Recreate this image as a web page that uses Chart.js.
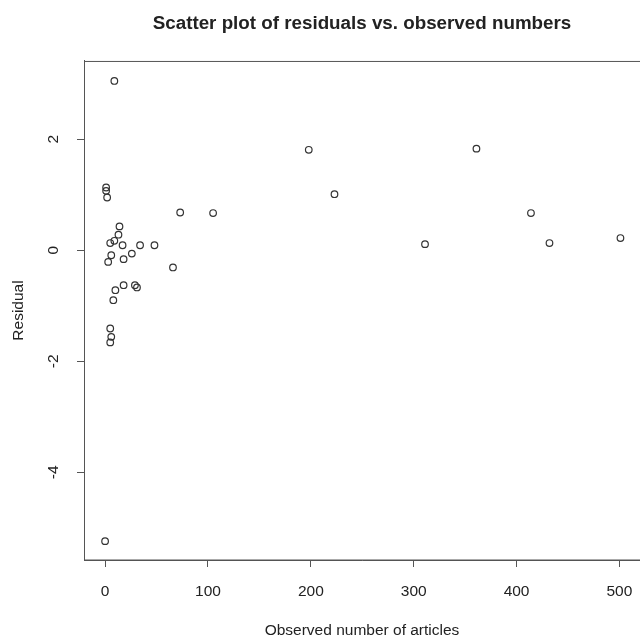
<!DOCTYPE html>
<html lang="en">
  <head>
    <meta charset="UTF-8" />
    <title>Residuals vs. observed numbers</title>
    <script src="https://cdn.jsdelivr.net/npm/chart.js"></script>
    <style>
      html, body { margin: 0; padding: 0; background: #fff; overflow: hidden; }
      canvas { display: block; }
    </style>
  </head>
  <body>
    <canvas id="residChart" width="640" height="638"></canvas>

    <script>
      // observed article counts and the model residual for each
      const observed = [9, 1, 1, 2, 73, 105, 14, 13, 5, 9, 17, 34, 48, 6, 3, 18, 26, 66,
        18, 29, 31, 10, 8, 5, 6, 5, 0, 198, 223, 361, 311, 414, 432, 501];
      const residuals = [3.05, 1.13, 1.07, 0.95, 0.68, 0.67, 0.43, 0.28, 0.13, 0.17, 0.09,
        0.09, 0.09, -0.09, -0.21, -0.16, -0.06, -0.31, -0.63, -0.63, -0.67, -0.72, -0.9,
        -1.41, -1.56, -1.66, -5.24, 1.81, 1.01, 1.83, 0.11, 0.67, 0.13, 0.22];

      const xTicks = [0, 100, 200, 300, 400, 500];
      const yTicks = [-4, -2, 0, 2];

      const ink = "#222";
      const lineCol = "#555";
      const family = "'Liberation Sans', Arial, sans-serif";

      // box around the plotting region
      const boxPlugin = {
        id: "box",
        afterDraw(chart) {
          const { ctx, chartArea: a } = chart;
          ctx.save();
          ctx.strokeStyle = lineCol;
          ctx.lineWidth = 1;
          ctx.strokeRect(a.left + 0.5, a.top + 0.5, a.right - a.left, a.bottom - a.top - 0.5);
          ctx.restore();
        },
      };

      const points = observed.map((x, i) => ({ x: x, y: residuals[i] }));

      new Chart(document.getElementById("residChart"), {
        type: "scatter",
        data: {
          datasets: [
            {
              data: points,
              pointStyle: "circle",
              pointRadius: 3.3,
              pointHoverRadius: 3.3,
              pointBorderWidth: 1.2,
              borderColor: "#333",
              backgroundColor: "rgba(0,0,0,0)",
            },
          ],
        },
        options: {
          responsive: false,
          animation: false,
          layout: { autoPadding: false, padding: 0 },
          plugins: {
            legend: { display: false },
            tooltip: { enabled: false },
            title: {
              display: true,
              fullSize: false,
              text: "Scatter plot of residuals vs. observed numbers",
              color: ink,
              font: { family: family, size: 18.8, weight: "bold", lineHeight: 1.2 },
              padding: { top: 13, bottom: 25.4 },
            },
          },
          scales: {
            x: {
              type: "linear",
              min: -20.5,
              max: 520,
              afterBuildTicks: (s) => { s.ticks = xTicks.map((v) => ({ value: v })); },
              afterFit: (s) => {
                s.height = 78;
                s.paddingLeft = 0;
                s.paddingRight = 0;
              },
              grid: { drawOnChartArea: false, tickLength: 7, color: lineCol },
              border: { color: lineCol },
              ticks: {
                color: ink,
                padding: 15,
                maxRotation: 0,
                font: { family: family, size: 15.5 },
              },
              title: {
                display: true,
                text: "Observed number of articles",
                color: ink,
                font: { family: family, size: 15.5, lineHeight: 1 },
                padding: { top: 0, bottom: 0 },
              },
            },
            y: {
              type: "linear",
              min: -5.58,
              max: 3.41,
              afterBuildTicks: (s) => { s.ticks = yTicks.map((v) => ({ value: v })); },
              afterFit: (s) => { s.width = 84; },
              grid: { drawOnChartArea: false, tickLength: 7, color: lineCol },
              border: { color: lineCol },
              ticks: {
                color: ink,
                padding: 16,
                minRotation: 90,
                maxRotation: 90,
                crossAlign: "center",
                font: { family: family, size: 15.5 },
              },
              title: {
                display: true,
                text: "Residual",
                color: ink,
                font: { family: family, size: 15.5, lineHeight: 1 },
                padding: { top: 10.7, bottom: 0 },
              },
            },
          },
        },
        plugins: [boxPlugin],
      });
    </script>
  </body>
</html>
